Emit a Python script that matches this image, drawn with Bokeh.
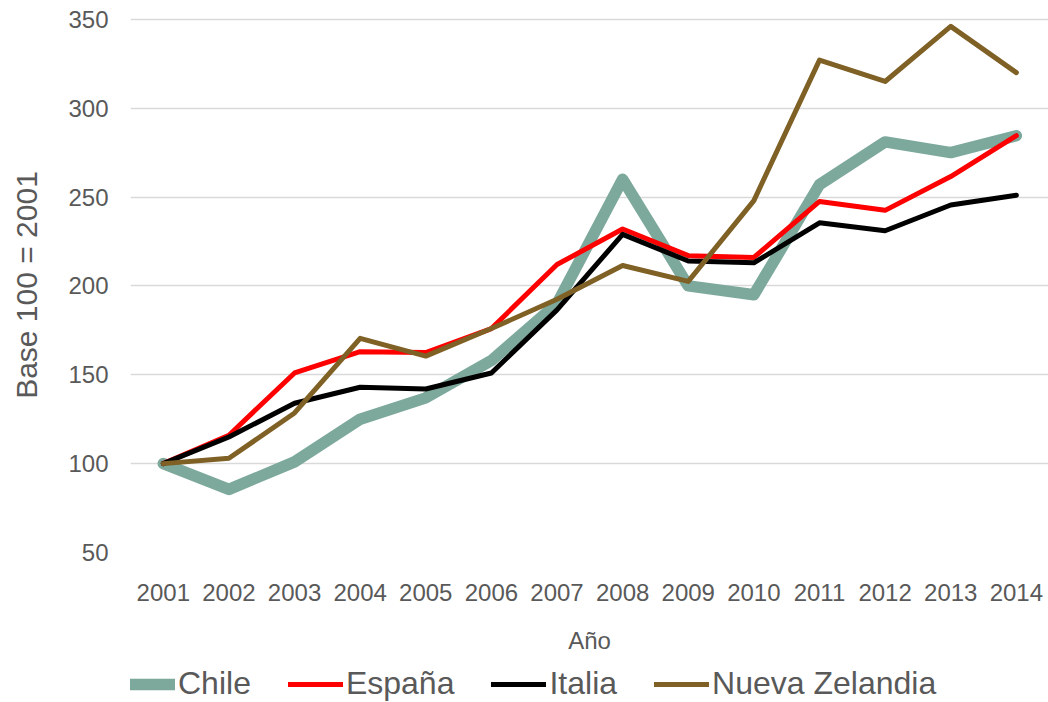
from bokeh.plotting import figure
from bokeh.models import Legend, LegendItem, FixedTicker, Range1d
from bokeh.layouts import column
from bokeh.embed import file_html
from bokeh.resources import INLINE

years = [2001, 2002, 2003, 2004, 2005, 2006, 2007, 2008, 2009, 2010, 2011, 2012, 2013, 2014]
chile = [100, 85.5, 101, 125, 137, 158, 190, 260, 200, 195, 257, 281, 275, 284.5]
espana = [100, 116, 151, 163, 162.5, 176, 212, 232, 217, 216, 247.5, 242.5, 261.5, 284.5]
italia = [100, 115, 134, 143, 142, 151, 186.5, 229, 214, 213, 235.5, 231, 245.5, 251]
nueva_zelandia = [100, 103, 128.5, 170.5, 160.5, 176, 192.5, 211.5, 202.5, 248, 327, 315, 346, 320]
y_ticks = [50, 100, 150, 200, 250, 300, 350]

FONT = "'Liberation Sans', Arial, sans-serif"
TXT = "#595959"

p = figure(width=1048, height=662, output_backend="svg", toolbar_location=None,
           x_range=Range1d(2000.5, 2014.49), y_range=Range1d(50, 351),
           min_border_left=130, min_border_right=0, min_border_top=17, min_border_bottom=110)
p.outline_line_color = None
p.background_fill_color = "white"

series = [
    ("Chile", chile, "#7DA99C", 11.5),
    ("España", espana, "#FF0000", 5),
    ("Italia", italia, "#000000", 5),
    ("Nueva Zelandia", nueva_zelandia, "#7F6025", 5),
]
for name, vals, col, w in series:
    p.line(years, vals, line_color=col, line_width=w, line_join="round", line_cap="round")

p.xgrid.grid_line_color = None
p.ygrid.grid_line_color = "#D9D9D9"
p.ygrid.grid_line_width = 1.5

p.xaxis.ticker = FixedTicker(ticks=years)
p.yaxis.ticker = FixedTicker(ticks=y_ticks)
for ax in (p.xaxis[0], p.yaxis[0]):
    ax.axis_line_color = None
    ax.major_tick_line_color = None
    ax.minor_tick_line_color = None
    ax.major_tick_out = 0
    ax.major_tick_in = 0
    ax.major_label_text_font = FONT
    ax.major_label_text_font_size = "24px"
    ax.major_label_text_color = TXT
    ax.axis_label_text_font = FONT
    ax.axis_label_text_color = TXT
    ax.axis_label_text_font_style = "normal"

p.xaxis.axis_label = "Año"
p.xaxis.axis_label_text_font_size = "24px"
p.xaxis.major_label_standoff = 31
p.xaxis.axis_label_standoff = 23

p.yaxis.axis_label = "Base 100 = 2001"
p.yaxis.axis_label_text_font_size = "30px"
p.yaxis.major_label_standoff = 22
p.yaxis.axis_label_standoff = 22

# legend strip (dummy lines sit outside the visible range; only their legend glyphs show)
lg = figure(width=1048, height=40, output_backend="svg", toolbar_location=None,
            x_range=Range1d(0, 1), y_range=Range1d(0, 1),
            x_axis_location=None, y_axis_location=None,
            min_border_left=0, min_border_right=0, min_border_top=0, min_border_bottom=0)
lg.grid.visible = False
lg.outline_line_color = None
items = []
for name, vals, col, w in series:
    r = lg.line([-5, -4], [-5, -5], line_color=col, line_width=w, line_cap="round")
    items.append(LegendItem(label=name, renderers=[r]))
legend = Legend(items=items, orientation="horizontal", location=(-10, 0),
                label_text_font=FONT, label_text_font_size="32px", label_text_color=TXT,
                glyph_width=55, glyph_height=34, label_standoff=3, spacing=37,
                padding=0, margin=0, border_line_color=None, background_fill_alpha=0)
lg.add_layout(legend, "center")

layout = column(p, lg, spacing=0)
open("out.html", "w").write(file_html(layout, INLINE))
